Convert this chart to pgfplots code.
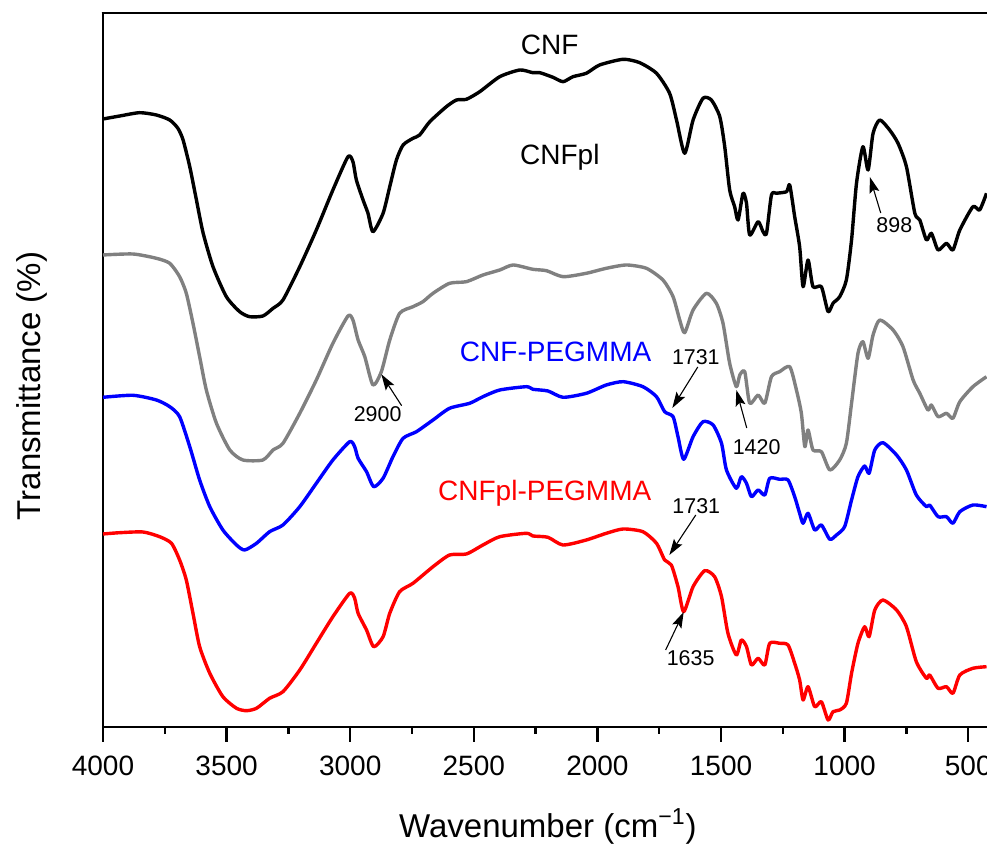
\documentclass[border=0pt]{standalone}
\usepackage{fontspec}
\setmainfont{Liberation Sans}
\usepackage{pgfplots}
\pgfplotsset{compat=1.18}
\usetikzlibrary{arrows.meta}
\definecolor{grayc}{RGB}{128,128,128}
\tikzset{
  annot/.style={font=\fontsize{10.7}{12}\selectfont, inner sep=0pt, anchor=center},
  arr/.style={line width=0.55pt, -{Stealth[length=8pt,width=5pt,inset=1.5pt]}},
}
\begin{document}
\begin{tikzpicture}
\useasboundingbox (-51.5pt,-58.5pt) rectangle (442pt,363.5pt);
\draw[black, line width=1.3pt] (-0.65pt,357pt) -- (445pt,357pt);
\begin{axis}[
  at={(0,0)}, anchor=south west,
  scale only axis, width=443.75pt, height=357pt,
  x dir=reverse, xmin=410, xmax=4000, ymin=0, ymax=714,
  xtick={500,1000,...,4000}, minor x tick num=1, ytick=\empty,
  xtick pos=bottom, tick align=outside,
  major tick length=7.5pt, minor tick length=3.5pt,
  every tick/.style={black, line width=1.2pt},
  axis line style={line width=1.3pt},
  tick label style={font=\fontsize{14}{16}\selectfont},
  xticklabel style={yshift=-3.5pt},
  /pgf/number format/assume math mode=true,
  /pgf/number format/set thousands separator={},
  xlabel={Wavenumber (cm\textsuperscript{−1})},
  ylabel={Transmittance (\%)},
  label style={font=\fontsize{16.5}{19}\selectfont},
  xlabel style={at={(axis description cs:0.5013,-0.1545)}, anchor=base},
  ylabel style={at={(axis description cs:-0.0699,0.4776)}, anchor=base},
  every axis plot/.append style={line width=1.7pt, line join=round, smooth, tension=0.4},
]
% CNF
\addplot[black] table {
4000 608
3932 611
3852 614.3
3784 612
3730 607
3697 598.7
3676 587
3649 560.3
3622 527
3595 494
3555 460.3
3501 430.3
3447 415.3
3407 410.3
3353 411
3312 418.7
3272 427
3204 460.3
3137 497
3070 537
3009 570.3
2989 565.3
2975 547
2948 527
2928 513.7
2908 495.3
2867 513.7
2840 540.3
2813 567
2786 582
2746 588.7
2719 592
2678 605.3
2611 620.3
2570 627
2530 627.7
2476 635.3
2395 650.3
2314 657
2261 654.3
2233 654.3
2180 649.7
2139 645.3
2099 650.3
2045 653.7
1991 662
1896 667.7
1829 664.3
1761 653.7
1708 633.7
1680 607
1647 573.7
1613 607
1573 628.7
1539 627
1505 610.3
1485 580.3
1465 537
1445 520.3
1431 507
1411 533.7
1397 523.7
1384 492
1350 505.3
1330 495.3
1316 493.7
1296 532
1276 533.7
1235 535.3
1222 542
1202 510.3
1182 480.3
1168 440.3
1148 467
1128 440.3
1094 440.3
1067 415.3
1047 423.7
1020 430.3
993 447
972 487
952 543.7
926 580.3
905 557
885 593.7
858 607
818 597
784 583.7
750 560.3
716 513.7
696 507
669 487
649 493.7
622 477
588 483.7
562 477
534 497
481 520.3
454 517
426 533.7
};
% CNFpl
\addplot[grayc] table {
4000 472
3879 473
3784 468.7
3730 463.7
3690 450.3
3663 433.7
3636 403.7
3609 370.3
3582 337
3541 303.7
3487 277
3434 267
3353 267
3312 277
3272 283.7
3204 313.7
3137 347
3070 383.7
3009 411
2989 407
2968 387
2941 370.3
2908 342
2874 355.3
2840 387
2800 413.7
2746 420.3
2706 425.3
2665 433.7
2598 443.7
2530 445.3
2463 452
2395 457
2341 462
2261 457.7
2206 456.3
2139 450.3
2045 453.7
1964 458.7
1883 462
1802 458.7
1735 447
1694 430.3
1667 407
1647 394.3
1613 417
1559 433.7
1519 423.7
1492 403.7
1465 363.7
1438 340.3
1424 352
1404 355.3
1384 323.7
1350 332
1323 323.7
1296 350.3
1263 355.3
1222 360.3
1195 337
1175 313.7
1161 280.3
1148 297
1128 277
1094 275.3
1060 257
1020 267
993 283.7
972 323.7
946 373.7
926 385.3
905 368.7
885 392
858 407
804 397
764 380.3
723 347
696 333.7
663 317
649 322
622 310.3
588 313.7
562 308.7
534 325.3
481 340.3
426 350.3
};
% CNF-PEGMMA
\addplot[blue] table {
4000 329.7
3879 331.7
3784 327
3730 320.3
3690 310.3
3649 280.3
3609 247
3568 220.3
3515 197
3460 182
3427 177
3379 183.7
3326 195.3
3272 202
3204 220.3
3137 243.7
3070 267
3002 285.3
2982 280.3
2968 268.7
2934 255.3
2905 240.3
2867 248.7
2827 270.3
2786 288.7
2732 295.3
2665 307
2598 318.7
2517 323.7
2463 330.3
2395 337
2287 340.3
2261 337.7
2200 336
2139 329.7
2045 333.7
1964 342
1896 345.3
1816 340.3
1761 330.3
1728 315.3
1694 310.3
1674 290.3
1651 267.7
1613 290.3
1573 305.3
1532 302
1498 283.7
1478 257
1438 238.7
1418 250.3
1397 243.7
1377 230.3
1350 237
1323 232
1303 248.7
1263 247.7
1229 247
1202 230.3
1182 213.7
1168 203.7
1148 213.7
1121 197
1094 202
1060 187.7
1033 192
1000 200.3
972 227
946 250.3
919 261
901 253.7
878 277
845 284.3
790 272
750 257
710 232
669 220.3
656 222
622 210.3
588 210.3
562 203.7
534 215.3
481 222
426 220.3
};
% CNFpl-PEGMMA
\addplot[red] table {
4000 193
3932 194.3
3838 195
3771 190.3
3723 183.7
3690 167
3663 147
3636 113.7
3609 80.3
3568 53.7
3515 30.3
3460 18.7
3420 16.3
3379 18.7
3326 28.7
3272 35.3
3204 57
3137 83.7
3070 110.3
3002 133.7
2982 128.7
2968 113.7
2934 97
2905 80.3
2867 90.3
2840 113.7
2800 135.3
2746 143.7
2665 160.3
2598 172
2530 173
2463 182
2395 190.3
2287 193.7
2261 191
2200 189.7
2139 182
2045 187
1964 193.7
1896 198
1816 195.3
1761 183.7
1728 167
1701 162
1674 140.3
1651 115.3
1613 140.3
1566 156.3
1526 150.3
1498 130.3
1472 93.7
1438 72
1418 87
1397 80.3
1377 62
1350 68.7
1323 62
1303 83.7
1263 83.7
1229 82
1202 63.7
1182 47
1168 27
1148 40.3
1121 20.3
1094 25.3
1067 7
1047 15.3
1020 17
993 23.7
972 53.7
946 83.7
919 100.3
901 90.3
878 117
845 127
790 117
750 100.3
710 65.3
669 48.7
656 52
622 38.7
588 40.3
562 33.7
534 52
481 58.7
426 60.3
};
% series labels
\node[font=\fontsize{14}{16}\selectfont, text=black] at (axis cs:2193,682) {CNF};
\node[font=\fontsize{14}{16}\selectfont, text=black] at (axis cs:2152,570) {CNFpl};
\node[font=\fontsize{14}{16}\selectfont, text=blue] at (axis cs:2169,375) {CNF-PEGMMA};
\node[font=\fontsize{14}{16}\selectfont, text=red] at (axis cs:2213,234) {CNFpl-PEGMMA};
% annotations
\node[annot] at (axis cs:799,501.5) {898};
\draw[arr] (axis cs:854,514) -- (axis cs:898,550);
\node[annot] at (axis cs:2889,313) {2900};
\draw[arr] (axis cs:2792,321.3) -- (axis cs:2874,352.7);
\node[annot] at (axis cs:1602,369.5) {1731};
\draw[arr] (axis cs:1594,360) -- (axis cs:1697,319);
\node[annot] at (axis cs:1356,279.5) {1420};
\draw[arr] (axis cs:1396,299) -- (axis cs:1438,337);
\node[annot] at (axis cs:1600,221) {1731};
\draw[arr] (axis cs:1602,212) -- (axis cs:1709,172);
\node[annot] at (axis cs:1623,69) {1635};
\draw[arr] (axis cs:1724,77) -- (axis cs:1651,115);
\end{axis}
\draw[black, line width=1.3pt] (-0.65pt,357pt) -- (445pt,357pt);
\end{tikzpicture}
\end{document}
